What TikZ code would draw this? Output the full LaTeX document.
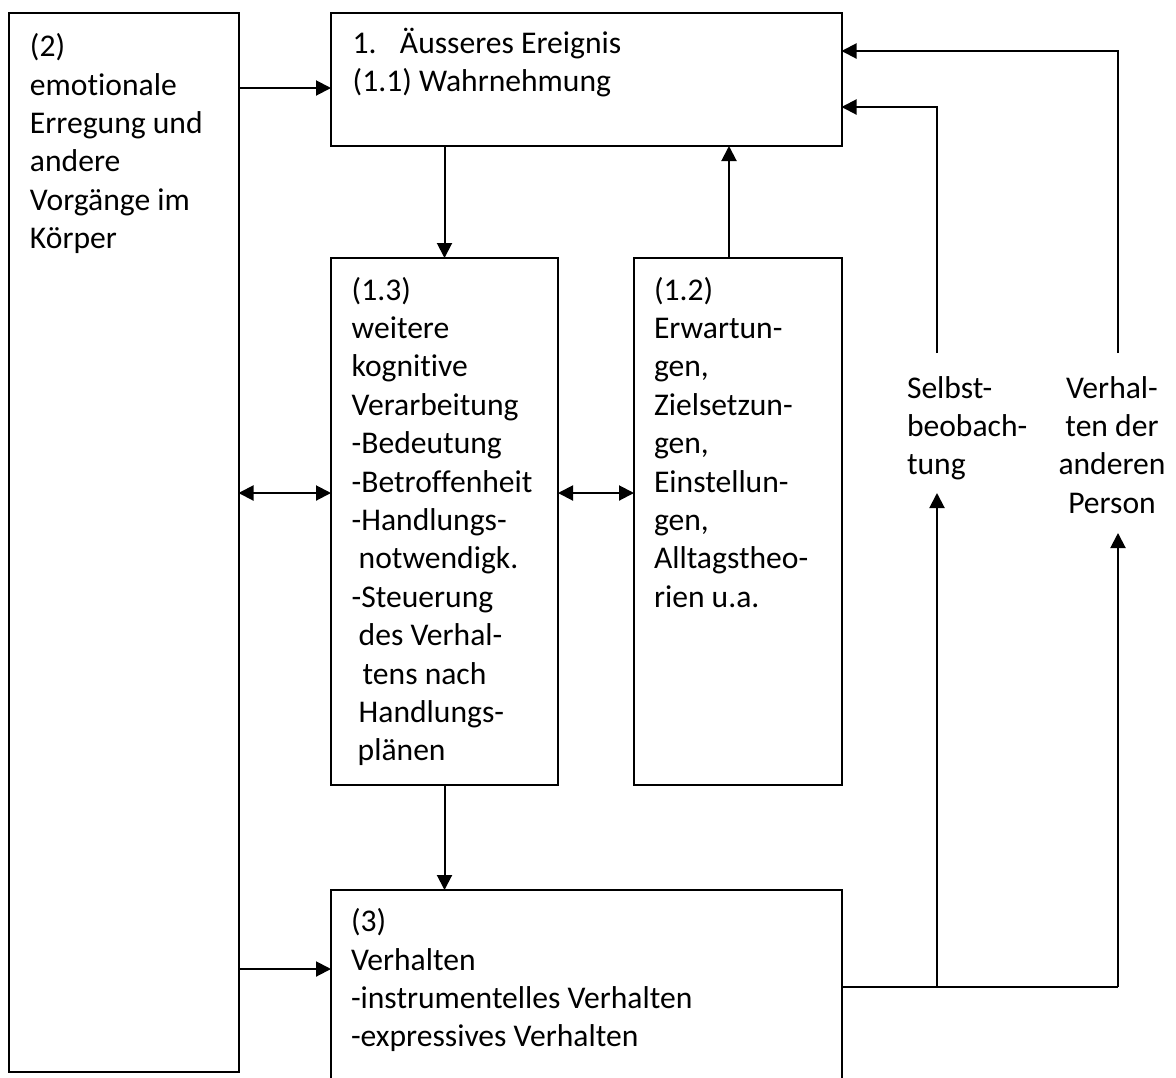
\documentclass[tikz,border=0pt]{standalone}
\usepackage{fontspec}
\setmainfont{Carlito}[Ligatures=NoCommon,RawFeature={-liga;-clig}]
\usetikzlibrary{arrows.meta}
\begin{document}
\begin{tikzpicture}[x=1pt,y=-1pt,
  box/.style={draw, line width=2pt, rectangle, outer sep=0pt, inner sep=0pt, anchor=north west},
  txt/.style={inner sep=0pt, outer sep=0pt, anchor=base west, font=\fontsize{31.6}{38.4}\selectfont},
  ctxt/.style={txt, anchor=base},
  link/.style={line width=2pt},
  >={Triangle[length=15pt,width=15pt]}]
\useasboundingbox (0,0) rectangle (1176,1077);
% boxes
\node[box, minimum width=230pt, minimum height=1059.5pt] (L) at (8.5,12.5) {};
\node[box, minimum width=510.5pt, minimum height=133.5pt] (T) at (331,12.5) {};
\node[box, minimum width=227pt, minimum height=527pt] (B13) at (331,258) {};
\node[box, minimum width=207.5pt, minimum height=527pt] (B12) at (634,258) {};
\node[box, minimum width=510.5pt, minimum height=200pt] (B3) at (331,890) {};
% texts
\node[txt] (Ltxt) at (30,56.7) {\begin{tabular}[t]{@{}l@{}}(2)\\emotionale\\Erregung und\\andere\\Vorgänge im\\Körper\end{tabular}};
\node[txt] (Ttxt) at (352.7,53.3) {\begin{tabular}[t]{@{}l@{}}\makebox[47.3pt][l]{1.}Äusseres Ereignis\\(1.1) Wahrnehmung\end{tabular}};
\node[txt] (B13txt) at (351.7,300) {\begin{tabular}[t]{@{}l@{}}(1.3)\\weitere\\kognitive\\Verarbeitung\\-Bedeutung\\-Betroffenheit\\-Handlungs-\\\hspace*{7pt}notwendigk.\\-Steuerung\\\hspace*{7pt}des Verhal-\\\hspace*{11pt}tens nach\\\hspace*{7pt}Handlungs-\\\hspace*{6pt}plänen\end{tabular}};
\node[txt] (B12txt) at (654,300) {\begin{tabular}[t]{@{}l@{}}(1.2)\\Erwartun-\\gen,\\Zielsetzun-\\gen,\\Einstellun-\\gen,\\Alltagstheo-\\rien u.a.\end{tabular}};
\node[txt] (B3txt) at (351,931.7) {\begin{tabular}[t]{@{}l@{}}(3)\\Verhalten\\-instrumentelles Verhalten\\-expressives Verhalten\end{tabular}};
\node[txt] (S) at (907,398) {\begin{tabular}[t]{@{}l@{}}Selbst-\\beobach-\\tung\end{tabular}};
\node[ctxt] (V) at (1112,398) {\begin{tabular}[t]{@{}c@{}}Verhal-\\ten der\\anderen\\Person\end{tabular}};
% helper coordinates
\coordinate (h88) at (0,88);
\coordinate (h493) at (0,493);
\coordinate (h969) at (0,969);
\coordinate (h107) at (0,107);
\coordinate (h51) at (0,51);
\coordinate (vA) at (444.5,0);
\coordinate (vB) at (729,0);
\coordinate (jS) at (937,987);
\coordinate (jV) at (1118,987);
\coordinate (sTip) at (937,493);
\coordinate (vTip) at (1118,533);
\coordinate (sTop) at (937,353);
\coordinate (vTop) at (1118,353);
% connectors
\draw[link,->] (L.east |- h88) -- (T.west |- h88);
\draw[link,->] (T.south -| vA) -- (B13.north -| vA);
\draw[link,->] (B12.north -| vB) -- (T.south -| vB);
\draw[link,<->] (L.east |- h493) -- (B13.west |- h493);
\draw[link,<->] (B13.east |- h493) -- (B12.west |- h493);
\draw[link,->] (B13.south -| vA) -- (B3.north -| vA);
\draw[link,->] (L.east |- h969) -- (B3.west |- h969);
\draw[link] (B3.east |- jS) -- (jV);
\draw[link,->] (jS) -- (sTip);
\draw[link,->] (jV) -- (vTip);
\draw[link,->] (sTop) |- (T.east |- h107);
\draw[link,->] (vTop) |- (T.east |- h51);
\end{tikzpicture}
\end{document}
